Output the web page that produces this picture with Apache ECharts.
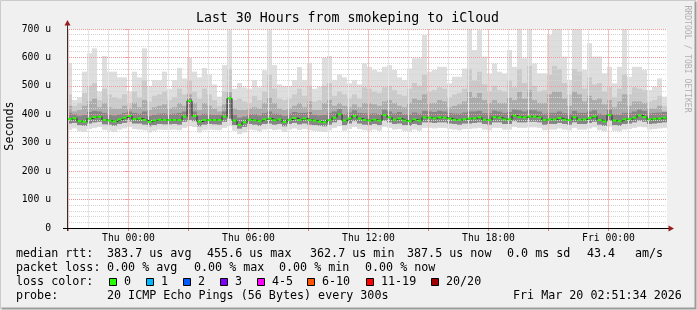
<!DOCTYPE html>
<html><head><meta charset="utf-8">
<script src="https://cdn.jsdelivr.net/npm/echarts@6/dist/echarts.min.js"></script>
<style>html,body{margin:0;padding:0;background:#f0f0f0}#c{width:697px;height:310px}</style>
</head><body><div id="c"></div>
<script>
// ---------------- data ----------------
const titleText = 'Last 30 Hours from smokeping to iCloud';
const yAxisName = 'Seconds';
const watermark = 'RRDTOOL / TOBI OETIKER';
const xTickValues = [0, 6, 12, 18, 24];              // hours from Thu 00:00
const xTickLabels = ['Thu 00:00', 'Thu 06:00', 'Thu 12:00', 'Thu 18:00', 'Fri 00:00'];
const yMaxUs = 700;
const yStepUs = 100;

// median RTT (us), one value per 15-minute bin
const medianUs = [
383,386,376,374,385,390,391,380,378,375,
382,388,394,383,385,380,373,378,381,380,
380,380,380,392,447,394,374,380,380,380,
380,392,456,378,363,372,381,379,376,382,
385,379,382,373,381,387,380,385,380,378,
374,372,380,388,400,378,385,394,385,380,
378,381,378,397,389,381,385,378,376,382,
378,389,388,386,389,388,385,381,380,383,
385,386,389,381,380,390,388,382,382,395,
390,389,392,392,389,380,382,382,387,381,
380,390,381,382,387,392,380,375,397,378,
376,382,383,388,396,390,382,384,385,388];
// slowest ping per bin (us)
const maxUs = [
580,450,460,550,615,632,480,605,550,550,
530,530,480,550,530,632,500,520,520,550,
490,520,563,526,598,550,530,563,540,505,
462,573,696,490,510,495,490,520,495,555,
696,573,505,500,500,520,566,520,580,490,
497,598,605,520,540,530,509,520,505,579,
567,556,550,567,573,556,530,520,561,597,
597,679,550,556,567,567,509,532,532,561,
710,626,696,603,544,579,550,544,626,567,
710,597,710,579,544,544,679,710,710,603,
520,710,710,556,650,603,603,544,567,509,
567,710,532,567,567,556,485,497,526,462];
// 90th percentile ping (us)
const p90Us = [
470,430,440,475,500,510,450,490,470,460,
455,470,440,480,460,520,445,465,470,480,
450,460,490,470,520,480,455,490,470,450,
430,480,560,450,455,445,440,465,450,480,
540,490,455,450,455,470,490,465,500,445,
450,500,510,465,480,470,455,470,455,495,
490,480,475,495,500,485,470,465,490,510,
500,540,480,485,495,490,460,470,475,490,
560,520,550,505,480,500,485,480,520,495,
560,510,570,500,480,485,540,570,560,510,
470,560,550,490,530,505,510,480,495,460,
490,540,470,495,490,485,445,450,465,430];
// 75th percentile ping (us)
const p75Us = [
430,410,415,430,445,455,425,440,425,420,
420,430,420,440,425,450,415,425,430,435,
420,425,440,430,470,440,415,440,430,420,
410,435,480,420,415,415,420,425,420,440,
460,440,420,415,420,430,440,425,445,415,
415,440,450,430,440,430,425,435,425,440,
440,435,430,445,450,440,430,425,440,455,
450,470,440,440,450,445,425,430,435,445,
480,460,475,450,440,450,440,440,460,450,
480,455,485,450,440,440,470,480,480,455,
430,480,470,445,465,450,455,435,450,425,
445,470,430,445,445,440,420,420,430,410];
// 60th percentile ping (us)
const p60Us = [
405,400,395,398,408,412,410,405,398,396,
400,405,410,405,402,410,395,398,402,403,
400,402,405,410,455,410,396,402,400,398,
398,410,462,398,388,392,400,400,396,404,
410,402,400,395,402,408,405,405,408,398,
396,398,405,410,418,400,406,414,405,404,
402,403,400,416,410,403,408,400,400,406,
402,412,410,408,412,410,405,403,402,406,
410,410,412,404,404,413,410,405,408,416,
414,410,415,414,410,402,405,405,410,404,
402,412,405,405,410,414,402,398,416,400,
398,405,405,410,416,412,403,405,406,408];
// 10th percentile ping (us)
const loUs = [
368,370,362,360,368,372,374,365,364,360,
366,370,375,368,368,364,358,362,366,365,
365,366,364,374,380,376,358,364,366,365,
364,374,385,362,350,356,366,364,360,366,
368,364,366,358,366,370,365,368,364,362,
360,358,364,372,380,362,368,376,368,364,
362,366,362,378,372,366,368,362,360,366,
362,372,372,370,372,372,368,366,364,368,
368,370,372,366,364,372,372,366,366,376,
372,372,374,374,372,364,366,366,370,366,
364,372,366,366,370,374,364,360,378,362,
360,366,368,372,378,374,366,368,370,372];
// fastest ping per bin (us)
const minUs = [
345,350,340,338,348,352,355,345,342,338,
346,350,355,348,346,344,336,342,346,345,
345,346,344,352,358,355,336,344,346,345,
344,352,362,342,330,336,346,344,340,346,
348,344,346,338,346,350,345,348,344,342,
340,338,344,352,358,342,348,355,348,344,
342,346,342,356,352,346,348,342,340,346,
342,352,352,350,352,352,348,346,344,348,
348,350,352,346,344,352,352,346,346,355,
352,352,354,354,352,344,346,346,350,346,
344,352,346,346,350,354,344,340,356,342,
340,346,348,352,356,354,346,348,350,352];

const legendRtt = ['median rtt:', '383.7 us avg', '455.6 us max', '362.7 us min', '387.5 us now', '0.0 ms sd', '43.4', 'am/s'];
const legendLoss = ['packet loss:', '0.00 % avg', '0.00 % max', '0.00 % min', '0.00 % now'];
const lossTitle = 'loss color:';
const lossLabels = ['0', '1', '2', '3', '4-5', '6-10', '11-19', '20/20'];
const lossColors = ['#26ff00', '#00b8ff', '#0059ff', '#7e00ff', '#ff00ff', '#ff5500', '#ff0000', '#a10000'];
const probeTitle = 'probe:';
const probeText = '20 ICMP Echo Pings (56 Bytes) every 300s';
const stampText = 'Fri Mar 20 02:51:34 2026';

// ---------------- layout / style ----------------
const xMin = -3.075, xMax = 26.925, binH = 0.25;
const MONO = '"DejaVu Sans Mono", monospace';
const smokeShades = ['#dedede', '#cacaca', '#ababab', '#858585'];
const gridRed = '#f29a9a', gridGrey = '#d4d4d4';

const smokeRows = medianUs.map((_, i) => [xMin + i * binH, minUs[i], loUs[i], p60Us[i], p75Us[i], p90Us[i], maxUs[i]]);
const medRows = medianUs.map((v, i) => [xMin + i * binH, v]);
const medLine = medRows.concat([[xMax, medianUs[medianUs.length - 1]]]);
const hourRows = [];
for (let h = Math.ceil(xMin); h < xMax; h++) hourRows.push([h, yMaxUs, h % 3 === 0 ? 1 : 0]);

function clipTo(params, r) {
  const cs = params.coordSys;
  return echarts.graphic.clipRectByRect(r, { x: cs.x, y: cs.y, width: cs.width, height: cs.height });
}

const chart = echarts.init(document.getElementById('c'), null, { renderer: 'canvas' });

chart.setOption({
  animation: false,
  backgroundColor: '#f0f0f0',
  grid: { left: 67, right: 30, top: 29, bottom: 82, show: true, backgroundColor: '#ffffff', borderWidth: 0, containLabel: false, outerBoundsMode: 'none' },
  xAxis: {
    type: 'value', min: xMin, max: xMax,
    axisLine: { show: false },
    splitLine: { show: false },
    axisTick: { show: true, customValues: [-3, 0, 3, 6, 9, 12, 15, 18, 21, 24], length: 3, lineStyle: { color: '#d08080' } },
    axisLabel: { customValues: xTickValues, formatter: v => xTickLabels[xTickValues.indexOf(Math.round(v))] || '', fontFamily: MONO, fontSize: 9.75, color: '#000', margin: 5 }
  },
  yAxis: {
    type: 'value', min: 0, max: yMaxUs, interval: yStepUs, z: 3,
    axisLine: { show: false },
    axisTick: { show: true, length: 4, lineStyle: { color: gridRed } },
    minorTick: { show: true, splitNumber: 5, length: 2, lineStyle: { color: gridGrey } },
    splitLine: { show: true, lineStyle: { color: gridRed, type: [1, 1] } },
    minorSplitLine: { show: true, lineStyle: { color: gridGrey, type: [1, 1] } },
    axisLabel: { formatter: v => v === 0 ? '0' : v + ' u', fontFamily: MONO, fontSize: 9.75, color: '#000', margin: 16 }
  },
  series: [
    {
      type: 'custom', z: 2, silent: true, data: smokeRows,
      encode: { x: 0, y: [1, 2, 3, 4, 5, 6] },
      renderItem: (params, api) => {
        const t = api.value(0);
        const bands = [[1, 6], [2, 5], [2, 4], [2, 3]];
        const children = [];
        bands.forEach(([lo, hi], k) => {
          const a = api.coord([t, api.value(hi)]);
          const b = api.coord([t + binH, api.value(lo)]);
          const r = clipTo(params, { x: a[0], y: a[1], width: b[0] - a[0], height: b[1] - a[1] });
          if (r) children.push({ type: 'rect', shape: r, style: { fill: smokeShades[k] } });
        });
        return { type: 'group', children: children };
      }
    },
    {
      // hourly vertical grid, red every 3 hours; 1px filled rects in a light tint (reads like rrdtool's dotted lines)
      type: 'custom', z: 3, silent: true, data: hourRows,
      encode: { x: 0, y: 1 },
      renderItem: (params, api) => {
        const h = api.value(0);
        const top = api.coord([h, yMaxUs]);
        const bot = api.coord([h, 0]);
        const x = Math.floor(top[0]);
        return { type: 'rect', shape: { x: x, y: top[1], width: 1, height: bot[1] - top[1] },
          style: { fill: api.value(2) ? '#f6c0c0' : '#e6e6e6' } };
      }
    },
    {
      type: 'line', z: 4, silent: true, data: medLine, step: 'end', symbol: 'none',
      lineStyle: { color: '#2a2a2a', width: 1 }
    },
    {
      type: 'custom', z: 5, silent: true, data: medRows,
      encode: { x: 0, y: 1 },
      renderItem: (params, api) => {
        const t = api.value(0), v = api.value(1);
        const a = api.coord([t, v]);
        const b = api.coord([t + binH, v]);
        return { type: 'rect', shape: { x: a[0] + 0.5, y: a[1] - 1, width: b[0] - a[0] - 1, height: 2 }, style: { fill: lossColors[0] } };
      }
    }
  ]
});

// ---------- decorations (text, frame, axes) ----------
const T = (text, x, y, extra) => ({ type: 'text', x: x, y: y, silent: true, style: Object.assign({ text: text, font: '11.7px ' + MONO, fill: '#000', textVerticalAlign: 'middle' }, extra || {}) });

const rttX = [16, 107, 207, 310, 407, 507, 587, 635];
const lossX = [16, 107, 194, 279, 365];
const boxX = [109, 146, 183, 220, 257, 307, 366, 431];
const graphics = [
  { type: 'rect', shape: { x: 0, y: 0, width: 697, height: 310 }, style: { fill: '#f0f0f0' }, z: -10, silent: true },
  { type: 'polyline', shape: { points: [[0.5, 309], [0.5, 0.5], [696, 0.5]] }, style: { stroke: '#cbcbcb', lineWidth: 1, fill: null }, silent: true },
  { type: 'polyline', shape: { points: [[1.5, 308.5], [695.5, 308.5], [695.5, 1.5]] }, style: { stroke: '#9c9c9c', lineWidth: 2, fill: null }, silent: true },
  T(titleText, 347.5, 19, { font: '13.25px ' + MONO, textAlign: 'center' }),
  { type: 'text', x: 10, y: 126, rotation: Math.PI / 2, silent: true, style: { text: yAxisName, font: '11.7px ' + MONO, fill: '#000', textAlign: 'center', textVerticalAlign: 'middle' } },
  { type: 'text', x: 687, y: 59, rotation: -Math.PI / 2, silent: true, style: { text: watermark, font: '8.1px ' + MONO, fill: '#b0b0b0', textAlign: 'center', textVerticalAlign: 'middle' } },
  { type: 'line', shape: { x1: 67.5, y1: 231, x2: 67.5, y2: 25 }, style: { stroke: '#303030', lineWidth: 1 }, z: 20, silent: true },
  { type: 'line', shape: { x1: 63, y1: 228.5, x2: 669, y2: 228.5 }, style: { stroke: '#000', lineWidth: 1 }, z: 20, silent: true },
  { type: 'polygon', shape: { points: [[64.5, 25.5], [70.5, 25.5], [67.5, 20]] }, style: { fill: '#9a1c1c' }, z: 20, silent: true },
  { type: 'polygon', shape: { points: [[668.5, 225.5], [668.5, 231.5], [674, 228.5]] }, style: { fill: '#9a1c1c' }, z: 20, silent: true }
];
legendRtt.forEach((s, i) => graphics.push(T(s, rttX[i], 254)));
legendLoss.forEach((s, i) => graphics.push(T(s, lossX[i], 268)));
graphics.push(T(lossTitle, 16, 282));
lossLabels.forEach((s, i) => {
  graphics.push({ type: 'rect', silent: true, shape: { x: boxX[i] + 0.5, y: 278.5, width: 7, height: 7 }, style: { fill: lossColors[i], stroke: '#000', lineWidth: 1 } });
  graphics.push(T(s, boxX[i] + 15, 282));
});
graphics.push(T(probeTitle, 16, 296));
graphics.push(T(probeText, 107, 296));
graphics.push(T(stampText, 513, 296));

chart.setOption({ graphic: graphics });
</script>
</body></html>
